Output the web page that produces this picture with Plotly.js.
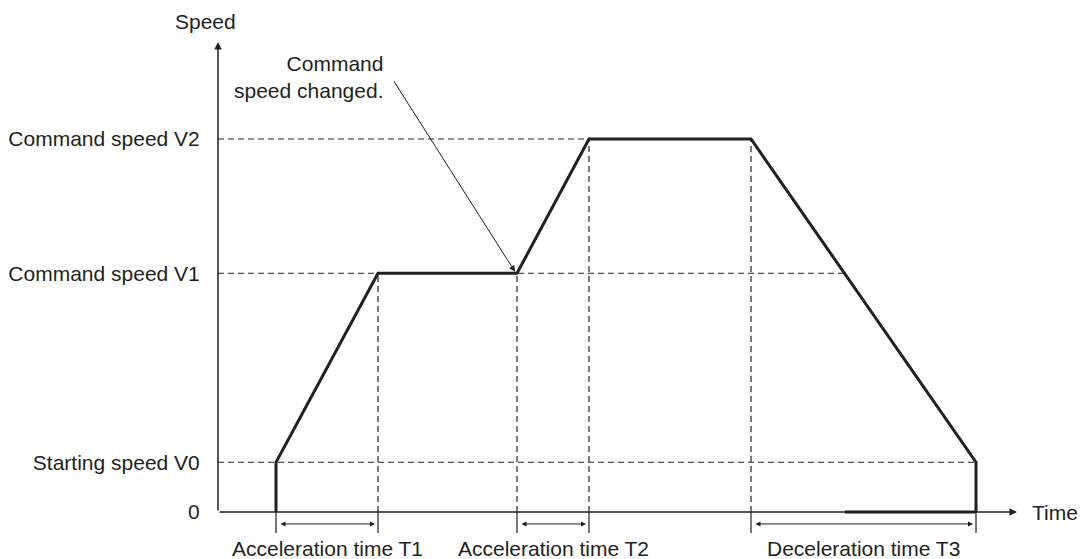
<!DOCTYPE html>
<html lang="en">
<head>
    <meta charset="UTF-8">
    <title>Speed profile with command speed change</title>
    <script src="https://cdn.plot.ly/plotly-3.0.1.min.js"></script>
    <style>
        body { margin: 0; background: #ffffff; }
        #chart { width: 1082px; height: 559px; }
    </style>
</head>
<body>
    <div id="chart"></div>
    <script>
        // speed levels shown on the vertical axis
        const speedLevels = [0, 10, 48, 75];
        const speedLabels = ['0', 'Starting speed V0', 'Command speed V1', 'Command speed V2'];

        // speed profile (time, speed)
        const profileTime = [5.8, 5.8, 16.0, 29.9, 37.1, 53.3, 75.8, 75.8];
        const profileSpeed = [0, 10, 48, 48, 75, 75, 10, 0];

        // dashed reference lines
        const levelGuideEnd = [75.8, 62.7, 37.1];   // V0, V1, V2
        const markTimes = [16.0, 29.9, 37.1, 53.3];
        const markSpeeds = [48, 48, 75, 75];

        // short ticks under the time axis
        const tickTimes = [5.8, 16.0, 29.9, 37.1, 53.3, 75.8];

        // time spans
        const spanStart = [5.8, 29.9, 53.3];
        const spanEnd = [16.0, 37.1, 75.8];
        const spanLabels = ['Acceleration time T1', 'Acceleration time T2', 'Deceleration time T3'];

        // heavier piece on the time axis
        const baseTime = [62.7, 75.8];
        const baseSpeed = [0, 0];

        const ink = '#231f20';
        const font = { family: 'Liberation Sans, Arial, sans-serif', size: 21, color: ink };

        // build dashed guides
        const gx = [], gy = [];
        levelGuideEnd.forEach((end, i) => {
            const lvl = speedLevels[i + 1];
            gx.push(0, end, null);
            gy.push(lvl, lvl, null);
        });
        markTimes.forEach((t, i) => {
            gx.push(t, t, null);
            gy.push(0, markSpeeds[i], null);
        });

        const tx = [], ty = [];
        tickTimes.forEach(t => { tx.push(t, t, null); ty.push(0, -4.2, null); });

        const traces = [
            { x: gx, y: gy, type: 'scatter', mode: 'lines', hoverinfo: 'skip',
              line: { color: '#262626', width: 1.2, dash: '6px,4px' } },
            { x: tx, y: ty, type: 'scatter', mode: 'lines', hoverinfo: 'skip',
              line: { color: ink, width: 1.2 } },
            { x: baseTime, y: baseSpeed, type: 'scatter', mode: 'lines', hoverinfo: 'skip',
              line: { color: ink, width: 3 } },
            { x: profileTime, y: profileSpeed, type: 'scatter', mode: 'lines', name: 'Speed',
              line: { color: ink, width: 3 } }
        ];

        const annotations = [
            // axes with arrows
            { x: 79.9, y: 0, ax: 0, ay: 0, xref: 'x', yref: 'y', axref: 'x', ayref: 'y',
              text: '', showarrow: true, arrowhead: 2, arrowsize: 1, arrowwidth: 1.5, arrowcolor: ink },
            { x: 0, y: 94.5, ax: 0, ay: 0, xref: 'x', yref: 'y', axref: 'x', ayref: 'y',
              text: '', showarrow: true, arrowhead: 2, arrowsize: 1, arrowwidth: 1.5, arrowcolor: ink },
            { x: -0.015, y: 1.039, xref: 'paper', yref: 'paper', text: 'Speed',
              showarrow: false, xanchor: 'center', yanchor: 'middle', font: font },
            { x: 81.2, y: 0, xref: 'x', yref: 'y', text: 'Time',
              showarrow: false, xanchor: 'left', yanchor: 'middle', font: font },
            // note on the speed change
            { x: 16.7, y: 87.4, xref: 'x', yref: 'y', text: 'Command<br>speed changed.',
              showarrow: false, xanchor: 'right', yanchor: 'middle', align: 'right', font: font },
            { x: 29.7, y: 48.3, ax: 17.5, ay: 86.9, xref: 'x', yref: 'y', axref: 'x', ayref: 'y',
              text: '', showarrow: true, arrowhead: 2, arrowsize: 1.2, arrowwidth: 1, arrowcolor: ink }
        ];

        spanLabels.forEach((label, i) => {
            annotations.push({
                x: spanEnd[i], y: -2.4, ax: spanStart[i], ay: -2.4,
                xref: 'x', yref: 'y', axref: 'x', ayref: 'y', text: '',
                showarrow: true, arrowside: 'end+start', arrowhead: 2, arrowsize: 1,
                arrowwidth: 1, arrowcolor: ink, standoff: 3, startstandoff: 3
            });
            annotations.push({
                x: (spanStart[i] + spanEnd[i]) / 2, y: -7.3, xref: 'x', yref: 'y',
                text: label, showarrow: false, xanchor: 'center', yanchor: 'middle', font: font
            });
        });

        const layout = {
            width: 1082,
            height: 559,
            margin: { l: 218, r: 0, t: 42, b: 0 },
            paper_bgcolor: '#ffffff',
            plot_bgcolor: '#ffffff',
            showlegend: false,
            xaxis: {
                range: [0, 86.4], showgrid: false, zeroline: false, showline: false,
                showticklabels: false, ticks: ''
            },
            yaxis: {
                range: [-9.45, 94.5], showgrid: false, zeroline: false, showline: false,
                tickmode: 'array', tickvals: speedLevels, ticktext: speedLabels,
                ticks: 'outside', ticklen: 13, tickcolor: 'rgba(0,0,0,0)', tickfont: font
            },
            annotations: annotations
        };

        Plotly.newPlot('chart', traces, layout, { staticPlot: true });
    </script>
</body>
</html>
